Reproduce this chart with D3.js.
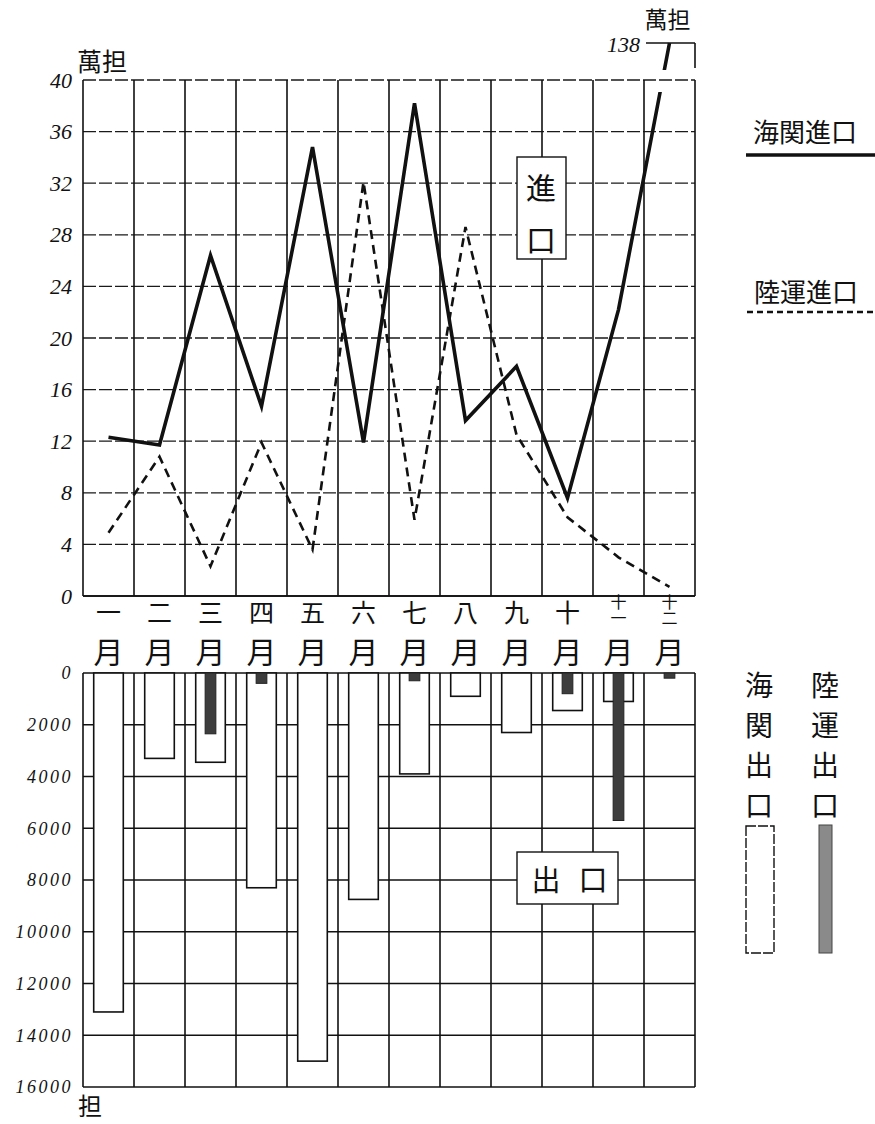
<!DOCTYPE html>
<html>
<head>
<meta charset="utf-8">
<script src="https://cdn.jsdelivr.net/npm/d3@7"></script>
<style>
  body { margin: 0; background: #fff; }
  svg { display: block; }
  .cjk { font-family: "Noto Sans CJK JP", "Noto Sans CJK TC", sans-serif; fill: #111; }
  .num { font-family: "Liberation Serif", "DejaVu Serif", serif; font-style: italic; fill: #111; }
</style>
</head>
<body>
<svg id="chart" width="875" height="1124"></svg>
<script>
// 月份
const months = ["一", "二", "三", "四", "五", "六", "七", "八", "九", "十", "十一", "十二"];

// 進口 (萬担)
const haikanImport = [12.3, 11.7, 26.4, 14.7, 34.8, 11.9, 38.2, 13.6, 17.8, 7.6, 22.2, 138];
const rikuunImport = [4.9, 10.8, 2.3, 11.9, 3.6, 32.1, 5.9, 28.6, 12.5, 6.1, 3.0, 0.7];

// 出口 (担)
const haikanExport = [13100, 3300, 3450, 8300, 15000, 8750, 3900, 900, 2300, 1450, 1100, 0];
const rikuunExport = [0, 0, 2350, 400, 0, 0, 300, 0, 0, 800, 5700, 200];

const topTicks = [0, 4, 8, 12, 16, 20, 24, 28, 32, 36, 40];
const bottomTicks = [0, 2000, 4000, 6000, 8000, 10000, 12000, 14000, 16000];
const breakValue = 138;

const svg = d3.select("#chart");
const left = 83, right = 695;

const x = d3.scaleBand().domain(months).range([left, right]);
const bw = x.bandwidth();
const cx = (m) => x(m) + bw / 2;

// 上段: 0-40 は等間隔, 40 以上は折れた目盛 (138)
const yTop = d3.scaleLinear().domain([0, 40, breakValue]).range([596, 80, 43]);
const yBot = d3.scaleLinear().domain([0, 16000]).range([673, 1087]);

const grid = svg.append("g");

// ---- 上段グリッド
grid.selectAll(".hTop")
  .data(topTicks)
  .enter()
  .append("line")
  .attr("x1", left).attr("x2", right)
  .attr("y1", (d) => yTop(d)).attr("y2", (d) => yTop(d))
  .attr("stroke", "#1a1a1a")
  .attr("stroke-width", (d) => (d === 0 ? 1.8 : 1.3))
  .attr("stroke-dasharray", (d) => (d === 0 ? null : "13,3"));

const vLines = x.domain().map((m) => x(m)).concat([right]);

grid.selectAll(".vTop")
  .data(vLines)
  .enter()
  .append("line")
  .attr("x1", (d) => d).attr("x2", (d) => d)
  .attr("y1", yTop(40)).attr("y2", yTop(0))
  .attr("stroke", "#111")
  .attr("stroke-width", 1.6);

// 138 の折れ目盛
grid.append("line")
  .attr("x1", x("十二") + 2).attr("x2", right)
  .attr("y1", yTop(breakValue)).attr("y2", yTop(breakValue))
  .attr("stroke", "#111").attr("stroke-width", 1.6);
grid.append("line")
  .attr("x1", right).attr("x2", right)
  .attr("y1", yTop(breakValue)).attr("y2", yTop(40) - 12)
  .attr("stroke", "#111").attr("stroke-width", 1.6);

svg.append("text")
  .attr("class", "num")
  .attr("x", x("十二") - 4).attr("y", yTop(breakValue) + 1)
  .attr("text-anchor", "end")
  .attr("dominant-baseline", "central")
  .attr("font-size", 22)
  .text(breakValue);

svg.append("text")
  .attr("class", "cjk")
  .attr("x", cx("十二") - 2).attr("y", 18)
  .attr("text-anchor", "middle")
  .attr("dominant-baseline", "central")
  .attr("font-size", 23)
  .text("萬担");

// 上段の目盛
const axTop = svg.append("g")
  .attr("transform", `translate(${left - 8},0)`)
  .call(d3.axisLeft(yTop).tickValues(topTicks).tickSize(0).tickPadding(3));
axTop.select(".domain").remove();
axTop.selectAll("text")
  .attr("class", "num")
  .attr("font-size", 22)
  .attr("fill", null);

svg.append("text")
  .attr("class", "cjk")
  .attr("x", 102).attr("y", 60)
  .attr("text-anchor", "middle")
  .attr("dominant-baseline", "central")
  .attr("font-size", 25)
  .text("萬担");

// ---- 折れ線
const defs = svg.append("defs");
const clip = defs.append("clipPath").attr("id", "breakClip");
clip.append("rect").attr("x", 0).attr("y", 0).attr("width", 875).attr("height", yTop(40) - 10);
clip.append("rect").attr("x", 0).attr("y", yTop(40) + 12).attr("width", 875).attr("height", 1124);

const line = d3.line()
  .x((d, i) => cx(months[i]))
  .y((d) => yTop(d));

svg.append("path")
  .datum(rikuunImport)
  .attr("d", line)
  .attr("fill", "none")
  .attr("stroke", "#111")
  .attr("stroke-width", 2.6)
  .attr("stroke-dasharray", "9,6");

svg.append("path")
  .datum(haikanImport)
  .attr("d", line)
  .attr("clip-path", "url(#breakClip)")
  .attr("fill", "none")
  .attr("stroke", "#111")
  .attr("stroke-width", 3.6)
  .attr("stroke-linejoin", "miter");

// 進口 box
svg.append("rect")
  .attr("x", 517).attr("y", 157).attr("width", 49).attr("height", 102)
  .attr("fill", "#fff").attr("stroke", "#111").attr("stroke-width", 1.4);
svg.append("text").attr("class", "cjk")
  .attr("x", 541).attr("y", 186).attr("text-anchor", "middle").attr("dominant-baseline", "central")
  .attr("font-size", 30).text("進");
svg.append("text").attr("class", "cjk")
  .attr("x", 541).attr("y", 238).attr("text-anchor", "middle").attr("dominant-baseline", "central")
  .attr("font-size", 30).text("口");

// ---- 月のラベル
const mLabels = svg.append("g");
months.forEach((m) => {
  if (m.length === 1) {
    mLabels.append("text").attr("class", "cjk")
      .attr("x", cx(m)).attr("y", 611)
      .attr("text-anchor", "middle").attr("dominant-baseline", "central")
      .attr("font-size", 25).text(m);
  } else {
    // 十一・十二 は縦に詰めて書く
    mLabels.append("text").attr("class", "cjk")
      .attr("x", cx(m)).attr("y", 594)
      .attr("writing-mode", "vertical-rl")
      .attr("font-size", 16)
      .text(m);
  }
  mLabels.append("text").attr("class", "cjk")
    .attr("x", cx(m)).attr("y", 650)
    .attr("text-anchor", "middle").attr("dominant-baseline", "central")
    .attr("font-size", 30).text("月");
});

// ---- 下段グリッド
grid.selectAll(".hBot")
  .data(bottomTicks)
  .enter()
  .append("line")
  .attr("x1", left).attr("x2", right)
  .attr("y1", (d) => yBot(d)).attr("y2", (d) => yBot(d))
  .attr("stroke", "#111")
  .attr("stroke-width", 1.5);

grid.selectAll(".vBot")
  .data(vLines)
  .enter()
  .append("line")
  .attr("x1", (d) => d).attr("x2", (d) => d)
  .attr("y1", yBot(0)).attr("y2", yBot(16000))
  .attr("stroke", "#111")
  .attr("stroke-width", 1.6);

const axBot = svg.append("g")
  .attr("transform", `translate(${left - 8},0)`)
  .call(d3.axisLeft(yBot).tickValues(bottomTicks).tickSize(0).tickPadding(2).tickFormat(d3.format("d")));
axBot.select(".domain").remove();
axBot.selectAll("text")
  .attr("class", "num")
  .attr("font-size", 18)
  .attr("letter-spacing", 2.5)
  .attr("fill", null);

svg.append("text").attr("class", "cjk")
  .attr("x", 90).attr("y", 1104)
  .attr("text-anchor", "middle").attr("dominant-baseline", "central")
  .attr("font-size", 24).text("担");

// ---- 棒
const outW = bw * 0.58;
const darkW = bw * 0.21;

svg.append("g")
  .selectAll("rect")
  .data(haikanExport.map((v, i) => ({ v, m: months[i] })).filter((d) => d.v > 0))
  .enter()
  .append("rect")
  .attr("x", (d) => cx(d.m) - outW / 2)
  .attr("y", yBot(0))
  .attr("width", outW)
  .attr("height", (d) => yBot(d.v) - yBot(0))
  .attr("fill", "#fff")
  .attr("stroke", "#111")
  .attr("stroke-width", 1.6);

svg.append("g")
  .selectAll("rect")
  .data(rikuunExport.map((v, i) => ({ v, m: months[i] })).filter((d) => d.v > 0))
  .enter()
  .append("rect")
  .attr("x", (d) => cx(d.m) - darkW / 2)
  .attr("y", yBot(0))
  .attr("width", darkW)
  .attr("height", (d) => yBot(d.v) - yBot(0))
  .attr("fill", "#3d3d3d")
  .attr("stroke", "#222")
  .attr("stroke-width", 1);

// 出口 box
svg.append("rect")
  .attr("x", 517).attr("y", 852).attr("width", 101).attr("height", 52)
  .attr("fill", "#fff").attr("stroke", "#111").attr("stroke-width", 1.4);
svg.append("text").attr("class", "cjk")
  .attr("x", 546).attr("y", 878).attr("text-anchor", "middle").attr("dominant-baseline", "central")
  .attr("font-size", 29).text("出");
svg.append("text").attr("class", "cjk")
  .attr("x", 593).attr("y", 878).attr("text-anchor", "middle").attr("dominant-baseline", "central")
  .attr("font-size", 29).text("口");

// ---- 凡例
const lg = svg.append("g");
lg.append("text").attr("class", "cjk")
  .attr("x", 805).attr("y", 130).attr("text-anchor", "middle").attr("dominant-baseline", "central")
  .attr("font-size", 26).text("海関進口");
lg.append("line")
  .attr("x1", 746).attr("x2", 875).attr("y1", 155).attr("y2", 155)
  .attr("stroke", "#111").attr("stroke-width", 3.6);

lg.append("text").attr("class", "cjk")
  .attr("x", 806).attr("y", 290).attr("text-anchor", "middle").attr("dominant-baseline", "central")
  .attr("font-size", 26).text("陸運進口");
lg.append("line")
  .attr("x1", 747).attr("x2", 875).attr("y1", 312).attr("y2", 312)
  .attr("stroke", "#111").attr("stroke-width", 2.6).attr("stroke-dasharray", "6,4");

const vertLegend = [
  { label: "海関出口", x: 759 },
  { label: "陸運出口", x: 825 }
];
vertLegend.forEach((g) => {
  g.label.split("").forEach((c, j) => {
    lg.append("text").attr("class", "cjk")
      .attr("x", g.x).attr("y", 684 + j * 40)
      .attr("text-anchor", "middle").attr("dominant-baseline", "central")
      .attr("font-size", 28).text(c);
  });
});
lg.append("rect")
  .attr("x", 746).attr("y", 826).attr("width", 28).attr("height", 127)
  .attr("fill", "#fff").attr("stroke", "#111").attr("stroke-width", 1.4)
  .attr("stroke-dasharray", "10,2");
lg.append("rect")
  .attr("x", 819).attr("y", 825).attr("width", 13).attr("height", 128)
  .attr("fill", "#8a8a8a").attr("stroke", "#444").attr("stroke-width", 1);
</script>
</body>
</html>
